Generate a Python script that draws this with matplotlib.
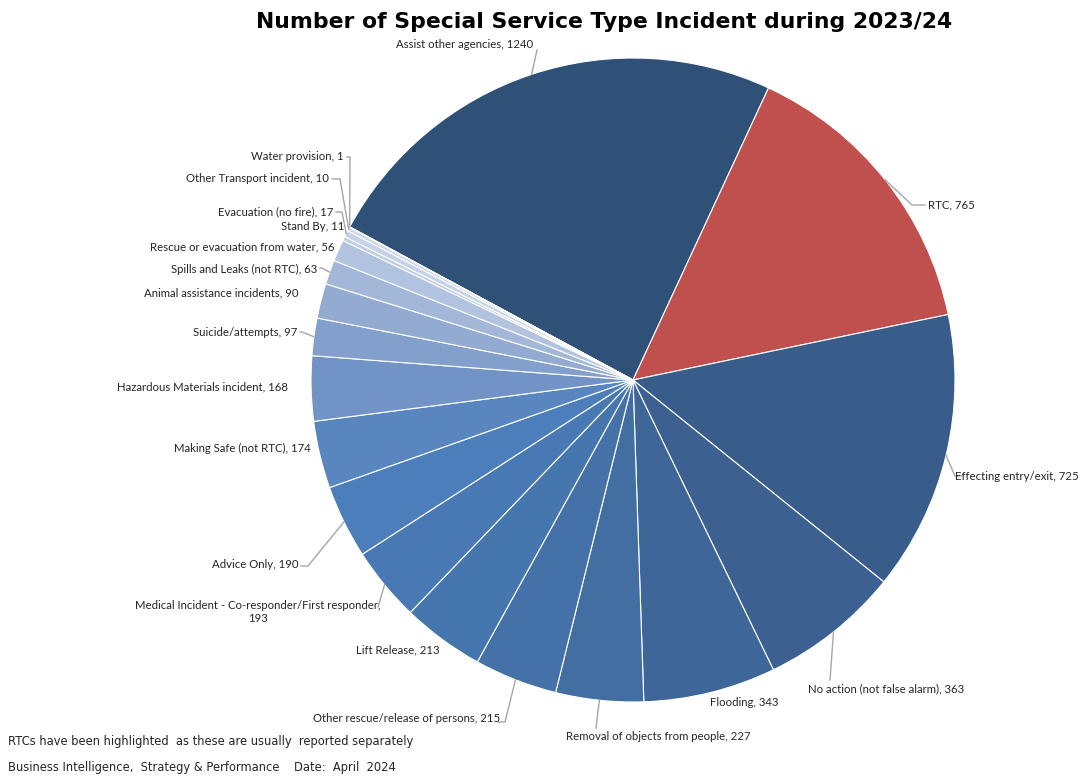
import numpy as np
import matplotlib.pyplot as plt

W, H = 1080, 776

categories = [
    "Assist other agencies", "RTC", "Effecting entry/exit",
    "No action (not false alarm)", "Flooding", "Removal of objects from people",
    "Other rescue/release of persons", "Lift Release",
    "Medical Incident - Co-responder/First responder", "Advice Only",
    "Making Safe (not RTC)", "Hazardous Materials incident", "Suicide/attempts",
    "Animal assistance incidents", "Spills and Leaks (not RTC)",
    "Rescue or evacuation from water", "Stand By", "Evacuation (no fire)",
    "Other Transport incident", "Water provision",
]
counts = [1240, 765, 725, 363, 343, 227, 215, 213, 193, 190,
          174, 168, 97, 90, 63, 56, 11, 17, 10, 1]

colors = [
    "#2F5077", "#C0504D", "#385D8A", "#3C6090", "#3F6699", "#426EA2",
    "#4472A8", "#4676AE", "#4879B4", "#4B7EBB", "#5A86C0", "#7293C6",
    "#839FCB", "#93ABD1", "#A3B7D8", "#B2C3DF", "#BFCDE5", "#C6D2E8",
    "#CCD7EB", "#D2DCEE",
]

# label layout in pixel coords (y from top): x, y, ha, leader points after the pie edge
label_layout = {
    0: (533, 44, "right", [(537, 50)]),
    1: (928, 205, "left", [(912, 205), (925, 205)]),
    2: (1079, 476, "right", [(955, 476), (961, 476)]),
    3: (808, 689, "left", [(830, 680)]),
    4: (710, 703, "left", []),
    5: (658, 736, "center", [(596, 728)]),
    6: (500, 719, "right", [(505, 722), (498, 722)]),
    7: (356, 650, "left", []),
    8: (258, 612, "center", [(378, 607)]),
    9: (298, 564, "right", [(308, 566), (301, 566)]),
    10: (311, 448, "right", []),
    11: (288, 387, "right", []),
    12: (297, 332, "right", [(302, 332), (300, 332)]),
    13: (299, 293, "right", []),
    14: (317, 269, "right", [(322, 268), (320, 268)]),
    15: (334, 247, "right", []),
    16: (344, 227, "right", []),
    17: (333, 212, "right", [(342, 212), (336, 212)]),
    18: (329, 179, "right", [(340, 179), (332, 179)]),
    19: (344, 157, "right", [(350, 157), (347, 157)]),
}


def px(x, y):
    return x, H - y


fig = plt.figure(figsize=(W / 100, H / 100), dpi=100)
ax = fig.add_axes([0, 0, 1, 1])

cx, cy = px(633, 380)
radius = 322
wedges, _ = ax.pie(
    counts, colors=colors, startangle=151.6, counterclock=False,
    center=(cx, cy), radius=radius, frame=True,
    wedgeprops=dict(edgecolor="white", linewidth=0.8),
)
ax.set_xlim(0, W)
ax.set_ylim(0, H)
ax.set_aspect("equal")
ax.axis("off")

label_font = dict(family=["Lato", "DejaVu Sans"], fontsize=8.2, color="#262626")
for i, (name, val) in enumerate(zip(categories, counts)):
    x, y, ha, leader = label_layout[i]
    text = f"{name}, {val}"
    if i == 8:
        text = f"{name},\n{val}"
    ax.text(*px(x, y), text, ha=ha, va="center", **label_font)
    if not leader:
        continue
    w = wedges[i]
    mid = np.deg2rad((w.theta1 + w.theta2) / 2)
    xs = [cx + radius * np.cos(mid)] + [p[0] for p in leader]
    ys = [cy + radius * np.sin(mid)] + [H - p[1] for p in leader]
    ax.plot(xs, ys, color="#A6A6A6", lw=1)

ax.text(*px(604, 22), "Number of Special Service Type Incident during 2023/24",
        ha="center", va="center", fontsize=15.75, fontweight="bold",
        family="DejaVu Sans", color="black")

foot_font = dict(family="DejaVu Sans", fontsize=8.3, color="#262626", ha="left", va="center")
ax.text(*px(8, 741), "RTCs have been highlighted  as these are usually  reported separately", **foot_font)
ax.text(*px(8, 768), "Business Intelligence,  Strategy & Performance    Date:  April  2024", **foot_font)

fig.savefig("out.png", dpi=100)
